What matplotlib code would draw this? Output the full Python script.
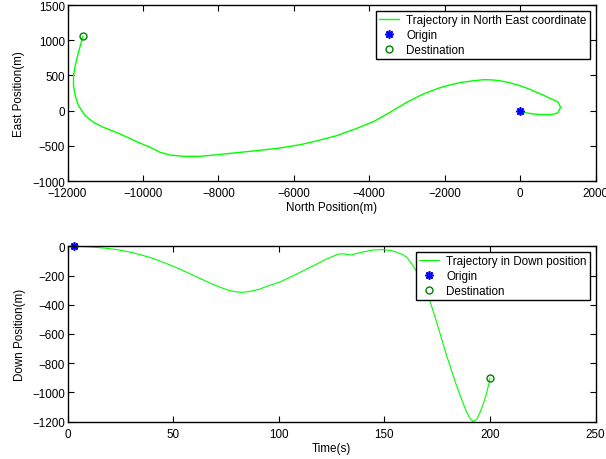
import numpy as np
import matplotlib
matplotlib.use('Agg')
import matplotlib.pyplot as plt

plt.rcParams['font.family'] = ['Liberation Sans', 'DejaVu Sans']
plt.rcParams['font.size'] = 8.4
plt.rcParams['axes.unicode_minus'] = True

# north/east trajectory (m), origin -> destination
north = [0, 83, 348, 600, 790, 950, 1010, 1073, 1010, 900, 790, 620, 438, 200, -5,
         -270, -535, -760, -977, -1300, -1595, -1860, -2125, -2567, -3007, -3449,
         -3892, -4332, -4862, -5482, -5833, -6364, -7000, -7602, -8050, -8484,
         -8926, -9279, -9544, -9809, -10161, -10604, -11046, -11311, -11531,
         -11709, -11796, -11841, -11841, -11796, -11709, -11592]
east = [0, -24, -48, -58, -58, -42, -24, 47, 118, 150, 175, 220, 260, 315, 354,
        395, 425, 437, 439, 420, 398, 365, 325, 236, 118, -24,
        -158, -252, -356, -442, -484, -531, -570, -602, -628, -649,
        -649, -631, -592, -521, -442, -332, -237, -166, -72,
        70, 212, 354, 496, 638, 828, 1055]

# down position vs time
time_s = [3, 7, 12.3, 18, 23.4, 29, 34.4, 40, 45.4, 51, 56.5, 61, 66, 71, 75.4, 79,
          82.5, 86, 91.2, 94.3, 100.6, 107, 110.1, 116.4, 122.7, 128.2, 131, 133.8,
          139.3, 144.8, 149.5, 153, 155.8, 158.5, 160.6, 163, 166, 168.5, 170.8,
          174.8, 179.5, 184.2, 187, 189, 190.8, 192.1, 193.7, 195.3, 196.8, 198.1,
          199.7, 200]
down = [0, -2, -6, -13, -23, -38, -57, -81, -110, -142, -178, -208, -242, -273, -297,
        -310, -315, -310, -292, -274, -244, -201, -178, -133, -87, -53, -52, -60,
        -41, -25, -23, -29, -41, -55, -75, -120, -190, -265, -338,
        -520, -748, -954, -1062, -1136, -1182, -1200, -1185, -1136, -1080, -1022,
        -930, -904]

origin_ne = (0, 0)
dest_ne = (-11592, 1055)
origin_d = (3, 0)
dest_d = (200, -904)

fig = plt.figure(figsize=(6.06, 4.6), dpi=100)
ax1 = fig.add_axes([0.1114, 0.6043, 0.8713, 0.3826])
ax2 = fig.add_axes([0.1114, 0.0811, 0.8713, 0.3813])

green = (0, 1, 0)
dgreen = (0, 0.5, 0)
star = (8, 2, 0)  # matlab-like asterisk

ax1.plot(north, east, color=green, linewidth=1.0, label='Trajectory in North East coordinate')
ax1.plot(*origin_ne, marker=star, ls='none', mec='blue', mew=1.2, markersize=6, label='Origin')
ax1.plot(*dest_ne, 'o', mfc='none', mec=dgreen, markersize=5, label='Destination')
ax1.set_xlim(-12000, 2000)
ax1.set_ylim(-1000, 1500)
ax1.set_xticks(np.arange(-12000, 2001, 2000))
ax1.set_yticks(np.arange(-1000, 1501, 500))
ax1.set_xlabel('North Position(m)', labelpad=1.5)
ax1.set_ylabel('East Position(m)', labelpad=5)

ax2.plot(time_s, down, color=green, linewidth=0.8, label='Trajectory in Down position')
ax2.plot(*origin_d, marker=star, ls='none', mec='blue', mew=1.2, markersize=6,
         label='Origin', clip_on=False)
ax2.plot(*dest_d, 'o', mfc='none', mec=dgreen, markersize=5, label='Destination')
ax2.set_xlim(0, 250)
ax2.set_ylim(-1200, 0)
ax2.set_xticks(np.arange(0, 251, 50))
ax2.set_yticks(np.arange(-1200, 1, 200))
ax2.set_xlabel('Time(s)', labelpad=1.5)
ax2.set_ylabel('Down Position(m)', labelpad=4)

for ax in (ax1, ax2):
    ax.tick_params(direction='in', top=True, right=True, length=4, width=0.8)
    ax.tick_params(axis='x', pad=4.5)
    ax.tick_params(axis='y', pad=2)
    for sp in ax.spines.values():
        sp.set_linewidth(1.0)
    leg = ax.legend(loc='upper right', fancybox=False, framealpha=1, edgecolor='black',
                    borderaxespad=0.5, handlelength=1.7, borderpad=0.25, labelspacing=0.25,
                    handletextpad=0.65, fontsize=8.4)
    leg.get_frame().set_linewidth(1.0)
    leg.set_zorder(5)

fig.savefig('out.png', dpi=100)
